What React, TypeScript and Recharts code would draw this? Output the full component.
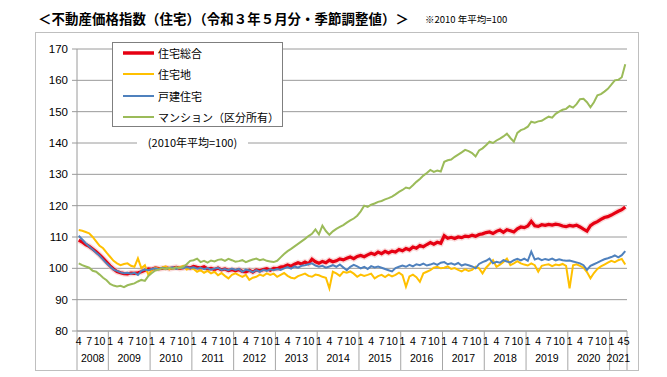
import React from 'react';
import { LineChart, Line, XAxis, YAxis, CartesianGrid, Legend } from 'recharts';

const START_YEAR = 2008;
const START_MONTH = 4;

const yearLabels = ['2008', '2009', '2010', '2011', '2012', '2013', '2014', '2015', '2016', '2017', '2018', '2019', '2020', '2021'];
const labeledMonths = [1, 4, 7, 10];
const lastYearLabeledMonths = [1, 4, 5];
const yTicks = [80, 90, 100, 110, 120, 130, 140, 150, 160, 170];
const seriesOrder = ['total', 'land', 'house', 'condo'];

// 住宅総合
const total = [
  109.0, 108.4, 107.6, 107.0, 106.2, 105.3, 104.3, 103.2, 102.0,
  100.8, 99.8, 99.0, 98.6, 98.3, 98.2, 98.5, 98.4, 98.6, 98.9, 99.4, 99.8,
  99.7, 100.1, 99.9, 100.0, 100.2, 99.9, 100.1, 100.3, 100.0, 100.2, 100.4, 100.1,
  100.6, 100.3, 100.1, 100.5, 99.8, 100.0, 99.6, 100.1, 99.5, 99.8, 99.3, 99.6,
  99.2, 99.6, 99.0, 98.9, 99.4, 98.8, 99.5, 99.2, 99.6, 99.9, 99.4, 100.0,
  99.9, 100.4, 100.6, 101.1, 100.7, 101.3, 101.8, 101.4, 102.0, 101.5, 102.9, 102.1,
  101.6, 102.2, 101.8, 102.6, 102.1, 102.4, 103.0, 102.7, 103.2, 103.6, 103.1, 103.8,
  104.1, 103.7, 104.3, 104.8, 104.4, 105.2, 104.7, 105.4, 104.9, 105.5, 105.2, 106.0,
  105.6, 106.3, 105.9, 106.8, 106.4, 107.3, 106.9, 107.6, 108.2, 107.7, 108.3, 108.0,
  110.4, 109.6, 109.9, 109.5, 110.0, 109.8, 110.3, 110.1, 110.6, 110.2, 110.8, 111.0,
  111.4, 111.6, 111.1, 111.8, 112.2, 111.5, 112.3, 112.0, 111.6, 112.6, 113.2, 113.0,
  113.5, 115.0, 113.6, 113.4, 113.9, 113.7, 114.0, 113.8, 114.1, 113.9, 113.5, 113.3,
  113.7, 113.5, 113.8, 113.2, 112.5, 111.9, 113.6, 114.4, 114.9, 115.6, 116.2, 116.5,
  117.0, 117.6, 118.2, 118.7, 119.6,
];

// 住宅地
const land = [
  112.2, 112.0, 111.6, 111.2, 110.0, 108.6, 107.2, 106.4, 105.0,
  103.7, 102.4, 101.6, 101.0, 101.4, 101.6, 100.8, 100.5, 103.2, 100.0, 101.0, 97.9,
  99.5, 100.2, 99.8, 100.3, 100.6, 99.7, 100.2, 99.9, 100.4, 100.8, 99.6, 100.1,
  99.8, 98.9, 99.4, 98.6, 99.2, 98.4, 98.9, 97.8, 98.5, 97.6, 96.8, 97.9,
  98.4, 97.8, 97.3, 97.9, 96.3, 97.0, 97.3, 98.0, 97.6, 98.4, 97.9, 98.3,
  97.3, 97.9, 98.5, 97.6, 97.0, 96.8, 97.5, 97.9, 98.3, 97.6, 97.3, 98.0,
  97.8, 97.3, 97.0, 93.6, 98.9, 98.4, 97.6, 98.9, 98.6, 99.0, 98.3, 97.3,
  98.0, 97.6, 97.9, 98.3, 96.8, 97.5, 97.9, 97.2, 98.0, 97.4, 97.9, 98.6,
  97.8, 94.1, 97.4, 98.0, 97.2, 95.7, 98.4, 98.9, 99.4, 100.2, 100.5, 100.0,
  100.2, 100.6, 99.8, 100.1, 99.5, 99.0, 99.7, 99.2, 99.5, 100.5, 100.0, 98.4,
  100.2, 101.4, 102.6, 100.5, 101.2, 102.0, 103.1, 101.0, 101.6, 102.3, 101.6, 101.2,
  100.9, 101.6, 101.0, 98.9, 100.8, 101.1, 101.3, 100.7, 101.2, 101.0, 101.4, 100.8,
  93.6, 101.0, 101.3, 100.8, 100.2, 98.8, 96.8, 98.5, 99.8, 100.6, 101.2, 101.8,
  102.4, 102.0, 102.6, 103.0, 101.2,
];

// 戸建住宅
const house = [
  110.4, 109.2, 108.0, 107.0, 106.0, 105.0, 104.0, 102.8, 101.6,
  100.6, 99.6, 99.2, 98.7, 98.4, 98.6, 98.3, 98.6, 97.9, 99.2, 99.6, 99.4,
  99.8, 100.0, 99.7, 100.2, 99.9, 100.1, 100.3, 99.8, 100.2, 100.0, 100.4, 100.1,
  100.3, 99.9, 100.2, 99.7, 100.1, 99.6, 99.9, 100.2, 99.5, 99.8, 99.4, 99.9,
  99.5, 99.8, 98.9, 99.6, 99.3, 98.8, 99.4, 98.9, 99.5, 99.2, 99.7, 99.4,
  99.8, 99.5, 100.0, 100.4, 99.9, 100.6, 100.2, 100.8, 101.0, 101.3, 101.6, 100.9,
  100.5, 100.8, 100.2, 100.6, 101.0, 100.5, 101.2, 100.3, 99.4, 100.5, 101.1, 100.6,
  100.0, 100.5, 99.8, 100.7, 100.3, 100.6, 100.2, 99.8, 99.4, 99.0, 100.1, 100.5,
  100.9, 100.5, 101.1, 100.6, 101.3, 101.0, 101.5, 100.9, 101.2, 101.6, 101.1, 101.8,
  102.0, 101.3, 101.6, 101.2, 101.7, 100.9, 101.3, 101.0, 100.6, 100.0, 101.4, 102.0,
  102.4, 103.1, 101.6, 102.1, 101.8, 102.6, 102.2, 101.9, 102.6, 103.0, 102.5, 103.1,
  102.4, 105.3, 102.8, 103.2, 102.6, 103.0, 102.7, 103.1, 102.5, 102.9, 102.6, 102.4,
  102.5, 102.2, 101.9, 101.6, 101.0, 99.5, 100.8, 101.3, 101.8, 102.4, 102.9, 103.2,
  103.6, 104.1, 103.5, 104.2, 105.5,
];

// マンション（区分所有）
const condo = [
  101.6, 101.0, 100.6, 100.2, 99.2, 98.9, 98.0, 97.0, 96.2,
  95.0, 94.5, 94.2, 94.4, 94.0, 94.6, 94.9, 95.2, 95.8, 96.3, 96.0, 97.6,
  98.5, 99.3, 99.6, 100.0, 99.7, 100.2, 99.8, 100.4, 100.0, 100.5, 101.3, 102.4,
  102.6, 103.1, 102.0, 102.4, 101.8, 102.5, 102.2, 102.7, 102.9, 102.4, 103.0, 102.6,
  102.1, 102.3, 102.6, 102.0, 102.4, 102.8, 103.1, 102.6, 102.9, 102.4, 102.2, 102.0,
  102.4, 103.5, 104.6, 105.5, 106.2, 107.0, 107.8, 108.6, 109.4, 110.3, 111.0, 112.4,
  110.8, 113.6, 111.9, 110.7, 111.8, 112.6, 113.2, 113.8, 114.6, 115.3, 115.9, 116.8,
  118.2, 120.0, 119.6, 120.3, 120.7, 121.2, 121.5, 122.0, 122.4, 122.9, 123.6, 124.4,
  125.0, 125.8, 125.5, 126.5, 127.6, 128.5, 129.6, 130.4, 131.4, 130.8, 131.2, 130.9,
  134.0, 134.5, 134.7, 135.6, 136.3, 137.0, 137.8, 137.4, 136.8, 135.7, 137.6, 138.3,
  139.3, 140.4, 140.0, 140.8, 141.4, 142.1, 143.0, 141.6, 140.4, 143.2, 144.1, 144.5,
  145.2, 146.8, 146.5, 146.9, 147.1, 147.8, 148.4, 148.1, 149.3, 150.0, 150.6, 150.9,
  151.8, 151.3, 152.4, 154.0, 154.1, 153.0, 151.4, 153.0, 155.2, 155.6, 156.4, 157.3,
  158.6, 160.0, 160.2, 161.0, 165.1,
];

const N = total.length;

const data = total.map((v, i) => ({
  x: i + 0.5,
  total: v,
  land: land[i],
  house: house[i],
  condo: condo[i],
}));

// month label ticks and year-boundary ticks
const monthText: Record<string, string> = {};
const monthAnchor: Record<string, string> = {};
const monthTicks: number[] = [];
const boundaryTicks: number[] = [0];
for (let i = 0; i < N; i++) {
  const k = START_MONTH - 1 + i;
  const m = (k % 12) + 1;
  const yIdx = Math.floor(k / 12);
  const isLast = yIdx === yearLabels.length - 1;
  const labels = isLast ? lastYearLabeledMonths : labeledMonths;
  if (m === 1 && i > 0) boundaryTicks.push(i);
  if (labels.includes(m)) {
    monthTicks.push(i + 0.5);
    monthText[String(i + 0.5)] = String(m);
    monthAnchor[String(i + 0.5)] = isLast && m === 4 ? 'end' : isLast && m === 5 ? 'start' : 'middle';
  }
}
boundaryTicks.push(N);
const boundarySet = new Set(boundaryTicks.map(String));

const yearCenters: number[] = [];
const yearText: Record<string, string> = {};
for (let j = 0; j < boundaryTicks.length - 1; j++) {
  const c = (boundaryTicks[j] + boundaryTicks[j + 1]) / 2 + 0.001;
  yearCenters.push(c);
  yearText[String(c)] = yearLabels[j];
}

const NUM_FONT = "'Liberation Sans', Arial, sans-serif";
const JP_FONT = "'Noto Sans CJK JP', 'Noto Sans', sans-serif";

const MonthTick = (props: any) => {
  const { x, y, payload } = props;
  const key = String(payload.value);
  if (boundarySet.has(key)) {
    return <line x1={x} x2={x} y1={y} y2={y + 39} stroke="#a6a6a6" strokeWidth={1} />;
  }
  const anchor = monthAnchor[key] || 'middle';
  const dx = anchor === 'end' ? 1.5 : anchor === 'start' ? -1.5 : 0;
  return (
    <text x={x + dx} y={y + 14} textAnchor={anchor} fontSize={10.5} fill="#000" fontFamily={NUM_FONT}>
      {monthText[key]}
    </text>
  );
};

const YearTick = (props: any) => {
  const { x, y, payload } = props;
  const key = String(payload.value);
  return (
    <text x={x} y={y + 13} textAnchor="middle" fontSize={10.5} fill="#000" fontFamily={NUM_FONT}>
      {yearText[key]}
    </text>
  );
};

const widths: Record<string, number> = { total: 3.5, land: 2, house: 2, condo: 2 };

const LegendBox = (props: any) => {
  const items = (props.payload || [])
    .filter((p: any) => p.type !== 'none')
    .slice()
    .sort((a: any, b: any) => seriesOrder.indexOf(a.dataKey) - seriesOrder.indexOf(b.dataKey));
  return (
    <div
      style={{
        width: 171,
        height: 85,
        boxSizing: 'border-box',
        border: '1px solid #7f7f7f',
        background: '#fff',
        position: 'relative',
      }}
    >
      {items.map((it: any, k: number) => (
        <div
          key={it.value}
          style={{
            position: 'absolute',
            left: 10,
            top: 10 + k * 21.4 - 9,
            height: 18,
            display: 'flex',
            alignItems: 'center',
            whiteSpace: 'nowrap',
          }}
        >
          <svg width={31} height={8} style={{ display: 'block' }}>
            <line x1={0} x2={31} y1={4} y2={4} stroke={it.color} strokeWidth={widths[it.dataKey] || 2} />
          </svg>
          <span style={{ marginLeft: 4, fontSize: 11, fontFamily: JP_FONT, color: '#000', lineHeight: '18px' }}>
            {it.value}
          </span>
        </div>
      ))}
    </div>
  );
};

export default function App() {
  return (
    <div style={{ position: 'absolute', left: 0, top: 0, width: 667, height: 377, background: '#fff' }}>
      <div
        style={{
          position: 'absolute',
          left: 38,
          top: 8,
          fontSize: 13.4,
          fontWeight: 'bold',
          fontFamily: JP_FONT,
          letterSpacing: 0.1,
          whiteSpace: 'nowrap',
          lineHeight: '20px',
          color: '#000',
        }}
      >
        ＜不動産価格指数（住宅）（令和３年５月分・季節調整値）＞
      </div>
      <div
        style={{
          position: 'absolute',
          left: 425,
          top: 12,
          fontSize: 9.5,
          fontFamily: JP_FONT,
          whiteSpace: 'nowrap',
          lineHeight: '14px',
          color: '#000',
        }}
      >
        ※2010 年平均=100
      </div>
      <div
        style={{
          position: 'absolute',
          left: 35,
          top: 32,
          width: 604,
          height: 339,
          boxSizing: 'border-box',
          border: '1px solid #bfbfbf',
        }}
      />
      <div style={{ position: 'absolute', left: 0, top: 0 }}>
        <LineChart width={667} height={377} data={data} margin={{ top: 49, right: 40, bottom: 6, left: 0 }}>
          <CartesianGrid xAxisId="m" vertical={false} stroke="#9a9a9a" />
          <XAxis
            xAxisId="m"
            dataKey="x"
            type="number"
            domain={[0, N]}
            ticks={[...boundaryTicks, ...monthTicks]}
            interval={0}
            tickLine={false}
            tickSize={0}
            tickMargin={0}
            height={18}
            axisLine={{ stroke: '#9a9a9a' }}
            tick={<MonthTick />}
            allowDataOverflow
          />
          <XAxis
            xAxisId="y"
            dataKey="x"
            type="number"
            domain={[0, N]}
            ticks={yearCenters}
            interval={0}
            tickLine={false}
            tickSize={0}
            tickMargin={0}
            height={22}
            axisLine={false}
            tick={<YearTick />}
            allowDataOverflow
          />
          <YAxis
            domain={[80, 170]}
            ticks={yTicks}
            interval={0}
            width={77}
            tickSize={5}
            tickMargin={4}
            axisLine={{ stroke: '#9a9a9a' }}
            tickLine={{ stroke: '#9a9a9a' }}
            tick={{ fontSize: 11.5, fill: '#000', fontFamily: NUM_FONT }}
            allowDataOverflow
          />
          <Legend
            layout="vertical"
            align="center"
            verticalAlign="middle"
            itemSorter={null as any}
            wrapperStyle={{ left: 112, top: 42, width: 171, height: 85 }}
            content={<LegendBox />}
          />
          <Line
            xAxisId="m"
            dataKey="total"
            stroke="#f6b3b3"
            strokeOpacity={0.5}
            strokeWidth={6}
            dot={false}
            legendType="none"
            isAnimationActive={false}
          />
          <Line xAxisId="m" name="住宅総合" dataKey="total" stroke="#e60012" strokeWidth={3.2} dot={false} isAnimationActive={false} />
          <Line xAxisId="m" name="住宅地" dataKey="land" stroke="#ffc000" strokeWidth={2} dot={false} isAnimationActive={false} />
          <Line xAxisId="m" name="戸建住宅" dataKey="house" stroke="#4f81bd" strokeWidth={2} dot={false} isAnimationActive={false} />
          <Line xAxisId="m" name="マンション（区分所有）" dataKey="condo" stroke="#9bbb59" strokeWidth={2} dot={false} isAnimationActive={false} />
        </LineChart>
      </div>
      <div
        style={{
          position: 'absolute',
          left: 137,
          top: 135,
          width: 111,
          height: 15,
          background: '#fff',
          textAlign: 'center',
          fontSize: 11,
          lineHeight: '15px',
          fontFamily: JP_FONT,
          color: '#000',
          whiteSpace: 'nowrap',
        }}
      >
        (2010年平均=100)
      </div>
    </div>
  );
}
